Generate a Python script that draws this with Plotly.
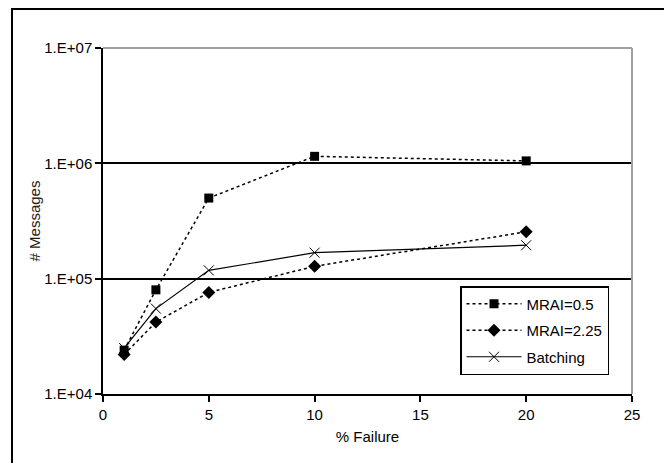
import plotly.graph_objects as go

failure = [1, 2.5, 5, 10, 20]
mrai_05 = [24000, 80000, 500000, 1150000, 1050000]
mrai_225 = [22000, 42000, 76000, 128000, 255000]
batching = [25000, 55000, 118000, 168000, 195000]

y_tickvals = [1e4, 1e5, 1e6, 1e7]
y_ticktext = ["1.E+04", "1.E+05", "1.E+06", "1.E+07"]
x_tickvals = [0, 5, 10, 15, 20, 25]

FONT = "Arial, Liberation Sans, sans-serif"

fig = go.Figure()
fig.add_trace(go.Scatter(
    x=failure, y=mrai_05, name="MRAI=0.5", mode="lines+markers",
    line=dict(color="black", width=1.5, dash="dot"),
    marker=dict(symbol="square", size=9, color="black"),
    legendgroup="a"))
fig.add_trace(go.Scatter(
    x=failure, y=mrai_225, name="MRAI=2.25", mode="lines+markers",
    line=dict(color="black", width=1.5, dash="dot"),
    marker=dict(symbol="diamond", size=10, color="black"),
    legendgroup="b"))
fig.add_trace(go.Scatter(
    x=failure, y=batching, name="Batching", mode="lines+markers",
    line=dict(color="black", width=1.2),
    marker=dict(symbol="x-thin", size=10, color="black",
                line=dict(color="black", width=1)),
    legendgroup="c"))

# page is offset by the browser's default 8px body margin
OFF = 8
W, H = 672, 463
L, R, T, B = 103 - OFF, W - (632 - OFF), 48 - OFF, H - (394 - OFF)
pw, ph = W - L - R, H - T - B


def px_x(x):
    return (x - OFF - L) / pw


def px_y(y):
    return (H - B - (y - OFF)) / ph


fig.update_layout(
    width=W, height=H,
    margin=dict(l=L, r=R, t=T, b=B),
    paper_bgcolor="white", plot_bgcolor="white",
    font=dict(family=FONT, size=15, color="black"),
    showlegend=True,
    legend=dict(
        x=px_x(460), y=px_y(286),
        xanchor="left", yanchor="top",
        bordercolor="black", borderwidth=1.5, bgcolor="white",
        font=dict(family=FONT, size=15, color="black"),
        traceorder="grouped", tracegroupgap=4, itemwidth=55,
    ),
    xaxis=dict(
        range=[0, 25], tickvals=x_tickvals,
        showline=True, linecolor="black", linewidth=1.5,
        ticks="outside", ticklen=6, tickcolor="black", tickwidth=1.5,
        showgrid=False, zeroline=False,
        title=dict(text="% Failure", standoff=10, font=dict(size=15)),
        tickfont=dict(size=15),
    ),
    yaxis=dict(
        type="log", range=[4, 7], tickvals=y_tickvals, ticktext=y_ticktext,
        showline=True, linecolor="black", linewidth=1.5,
        ticks="outside", ticklen=6, tickcolor="black", tickwidth=1.5,
        showgrid=True, gridcolor="black", gridwidth=1.5,
        zeroline=False,
        title=dict(text="# Messages", standoff=0, font=dict(size=15, color="#2a1a10")),
        tickfont=dict(size=15),
    ),
    shapes=[
        dict(type="line", xref="paper", yref="paper", x0=0, x1=1, y0=1, y1=1,
             line=dict(color="#a0a0a0", width=2), layer="above"),
        dict(type="line", xref="paper", yref="paper", x0=1, x1=1, y0=0, y1=1,
             line=dict(color="#a0a0a0", width=2), layer="above"),
        dict(type="rect", xref="paper", yref="paper",
             x0=px_x(12), x1=px_x(W + 30),
             y0=px_y(H + 30), y1=px_y(9),
             line=dict(color="black", width=2), layer="below"),
    ],
)

fig.write_html("out.html")
